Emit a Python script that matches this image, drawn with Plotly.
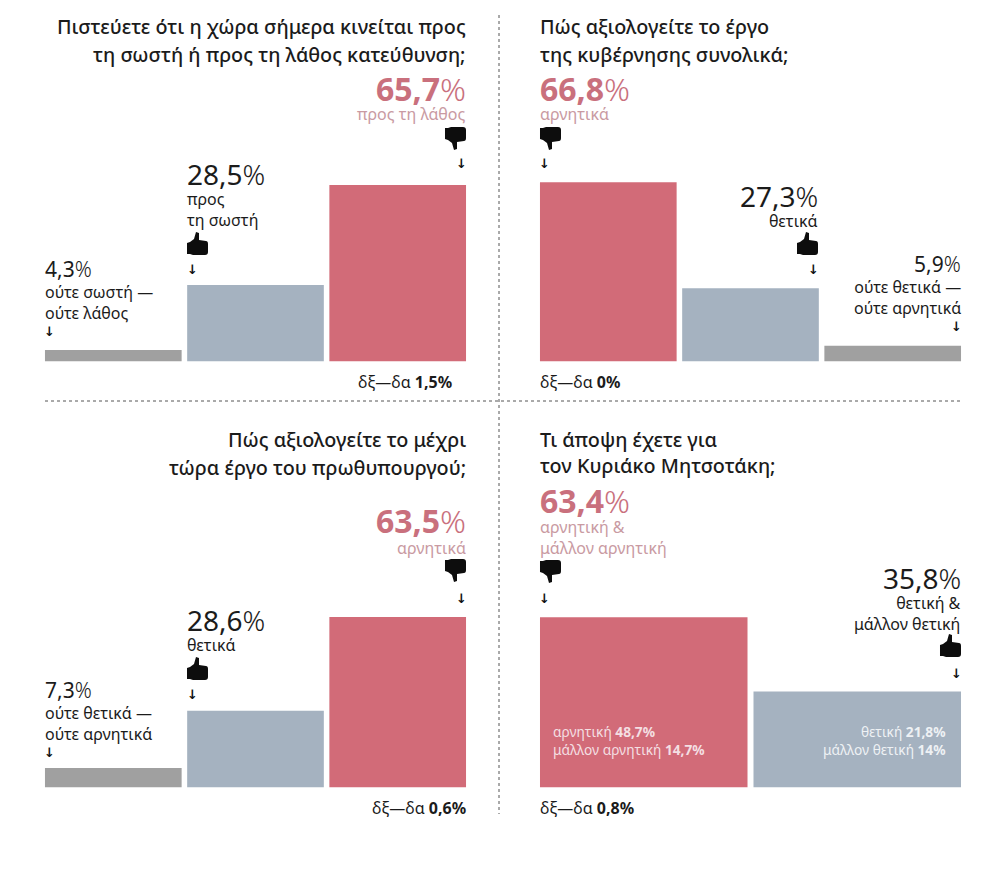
import plotly.graph_objects as go

W, H = 990, 872
FONT = "Noto Sans"
INK = "#1b1b1b"
PINK = "#c9707d"
PINK_SOFT = "#c99aa2"
RED, BLUE, GRAY = "#d26b78", "#a5b2c0", "#a0a0a0"

# ---- data ----
p1_categories = ["ούτε σωστή — ούτε λάθος", "προς τη σωστή", "προς τη λάθος"]
p1_values = [4.3, 28.5, 65.7]
p2_categories = ["αρνητικά", "θετικά", "ούτε θετικά — ούτε αρνητικά"]
p2_values = [66.8, 27.3, 5.9]
p3_categories = ["ούτε θετικά — ούτε αρνητικά", "θετικά", "αρνητικά"]
p3_values = [7.3, 28.6, 63.5]
p4_categories = ["αρνητική & μάλλον αρνητική", "θετική & μάλλον θετική"]
p4_values = [63.4, 35.8]

p1_title = ["Πιστεύετε ότι η χώρα σήμερα κινείται προς", "τη σωστή ή προς τη λάθος κατεύθυνση;"]
p2_title = ["Πώς αξιολογείτε το έργο", "της κυβέρνησης συνολικά;"]
p3_title = ["Πώς αξιολογείτε το μέχρι", "τώρα έργο του πρωθυπουργού;"]
p4_title = ["Τι άποψη έχετε για", "τον Κυριάκο Μητσοτάκη;"]
dk_labels = ["1,5%", "0%", "0,6%", "0,8%"]

fig = go.Figure()
PX_PER_UNIT = 2.685
Y_MAX = 70


def add_panel(i, cats, vals, colors, x0, x1, base, bar_w):
    n = "" if i == 1 else str(i)
    fig.add_trace(go.Bar(x=cats, y=vals, marker=dict(color=colors, line_width=0), width=bar_w,
                         xaxis="x" + n, yaxis="y" + n, hoverinfo="skip", showlegend=False))
    top = base - Y_MAX * PX_PER_UNIT
    fig.update_layout({
        "xaxis" + n: dict(domain=[x0 / W, x1 / W], type="category", categoryorder="array",
                          categoryarray=cats, range=[-0.5, len(cats) - 0.5], visible=False,
                          anchor="y" + n),
        "yaxis" + n: dict(domain=[1 - base / H, 1 - top / H], range=[0, Y_MAX], visible=False,
                          anchor="x" + n),
    })


add_panel(1, p1_categories, p1_values, [GRAY, BLUE, RED], 42.2, 468.8, 361.5, 0.961)
add_panel(2, p2_categories, p2_values, [RED, BLUE, GRAY], 537.2, 963.8, 361.5, 0.961)
add_panel(3, p3_categories, p3_values, [GRAY, BLUE, RED], 42.2, 468.8, 787.5, 0.961)
add_panel(4, p4_categories, p4_values, [RED, BLUE], 537, 964, 787.5, 0.972)

ann = []


def T(x, y, s, size, color=INK, anchor="left", weight=400, family=FONT):
    ann.append(dict(x=x / W, y=1 - y / H, xref="paper", yref="paper", text=s, showarrow=False,
                    xanchor=anchor, align=anchor, yanchor="middle", borderpad=0, borderwidth=0,
                    font=dict(family=family, size=size, color=color, weight=weight)))


def num(v):
    return f"{v}".replace(".", ",")


def big(x, y, v, color=INK, anchor="left", bold=False, size=28):
    s = num(v)
    body = f"<b>{s}</b>" if bold else s
    T(x, y, body + '<span style="font-weight:300">%</span>', size, color, anchor)


def arrow(x, y):
    T(x, y, "↓", 13, "#111111", "center", 700, "DejaVu Sans")


UP = [("M", 0, 11), ("L", 3, 10), ("L", 7, 7), ("L", 9, 0), ("L", 12, 1), ("L", 12, 8), ("L", 19, 9),
      ("Q", 21, 9, 21, 12), ("L", 21, 20), ("Q", 21, 23, 18, 23), ("L", 6, 23), ("L", 3, 22), ("L", 0, 22)]
shapes = []


def thumb(x, y, down=False):
    parts = []
    for seg in UP:
        cmd, *c = seg
        pts = []
        for k in range(0, len(c), 2):
            px_ = x + c[k]
            py_ = y + (23 - c[k + 1] if down else c[k + 1])
            pts.append(f"{px_ / W:.5f},{1 - py_ / H:.5f}")
        parts.append(cmd + " ".join(pts))
    shapes.append(dict(type="path", xref="paper", yref="paper", path=" ".join(parts) + "Z",
                       fillcolor="#0d0d0d", line_width=0))


TITLE = 19.8
TW = 500
SUB = 16
SMALL = 21
INNER = 13.7
BOLDBIG = 32

# panel 1
T(466, 27, p1_title[0], TITLE, INK, "right", TW); T(466, 55, p1_title[1], TITLE, INK, "right", TW)
big(466, 88, p1_values[2], PINK, "right", True, BOLDBIG)
T(466, 114, "προς τη λάθος", SUB, PINK_SOFT, "right")
thumb(445, 127, True); arrow(461, 164)
big(187, 174, p1_values[1])
T(187, 209.5, "προς<br>τη σωστή", SUB)
thumb(187, 232); arrow(192, 269)
big(45, 269, p1_values[0], size=SMALL)
T(45, 302, "ούτε σωστή —<br>ούτε λάθος", SUB); arrow(49, 331)
T(452, 382, f"δξ—δα <b>{dk_labels[0]}</b>", SUB, INK, "right")

# panel 2
T(540, 27, p2_title[0], TITLE, weight=TW); T(540, 55, p2_title[1], TITLE, weight=TW)
big(540, 88, p2_values[0], PINK, bold=True, size=BOLDBIG)
T(540, 114, "αρνητικά", SUB, PINK_SOFT)
thumb(540, 127, True); arrow(544, 164)
big(818, 196, p2_values[1], anchor="right")
T(818, 221, "θετικά", SUB, INK, "right")
thumb(797, 232); arrow(813, 269)
big(961, 264, p2_values[2], anchor="right", size=SMALL)
T(961, 297.5, "ούτε θετικά —<br>ούτε αρνητικά", SUB, INK, "right")
arrow(956, 326)
T(540, 382, f"δξ—δα <b>{dk_labels[1]}</b>", SUB)

# panel 3
T(466, 439, p3_title[0], TITLE, INK, "right", TW); T(466, 467, p3_title[1], TITLE, INK, "right", TW)
big(466, 520, p3_values[2], PINK, "right", True, BOLDBIG)
T(466, 548, "αρνητικά", SUB, PINK_SOFT, "right")
thumb(445, 559, True); arrow(461, 598)
big(187, 620, p3_values[1])
T(187, 645, "θετικά", SUB)
thumb(187, 657); arrow(192, 694)
big(45, 690, p3_values[0], size=SMALL)
T(45, 723.5, "ούτε θετικά —<br>ούτε αρνητικά", SUB); arrow(49, 752)
T(466, 808, f"δξ—δα <b>{dk_labels[2]}</b>", SUB, INK, "right")

# panel 4
T(540, 439, p4_title[0], TITLE, weight=TW); T(540, 466, p4_title[1], TITLE, weight=TW)
big(540, 500, p4_values[0], PINK, bold=True, size=BOLDBIG)
T(540, 537.5, "αρνητική &<br>μάλλον αρνητική", SUB, PINK_SOFT)
thumb(540, 560, True); arrow(544, 598)
big(961, 578, p4_values[1], anchor="right")
T(961, 613.5, "θετική &<br>μάλλον θετική", SUB, INK, "right")
thumb(940, 634); arrow(956, 673)
T(553, 740, "αρνητική <b>48,7%</b><br>μάλλον αρνητική <b>14,7%</b>", INNER, "#f4dfe2")
T(946, 740, "θετική <b>21,8%</b><br>μάλλον θετική <b>14%</b>", INNER, "#eef1f4", "right")
T(540, 808, f"δξ—δα <b>{dk_labels[3]}</b>", SUB)

# dividers
DIV = dict(color="#555555", width=1, dash="dot")
shapes.append(dict(type="line", xref="paper", yref="paper", x0=499 / W, x1=499 / W,
                   y0=1 - 15 / H, y1=1 - 814 / H, line=DIV))
shapes.append(dict(type="line", xref="paper", yref="paper", x0=45 / W, x1=961 / W,
                   y0=1 - 401 / H, y1=1 - 401 / H, line=DIV))

fig.update_layout(width=W, height=H, margin=dict(l=0, r=0, t=0, b=0), paper_bgcolor="white",
                  plot_bgcolor="white", annotations=ann, shapes=shapes, showlegend=False,
                  barmode="overlay")
fig.write_html("out.html", config={"displayModeBar": False},
               post_script="document.body.style.margin='0';")
